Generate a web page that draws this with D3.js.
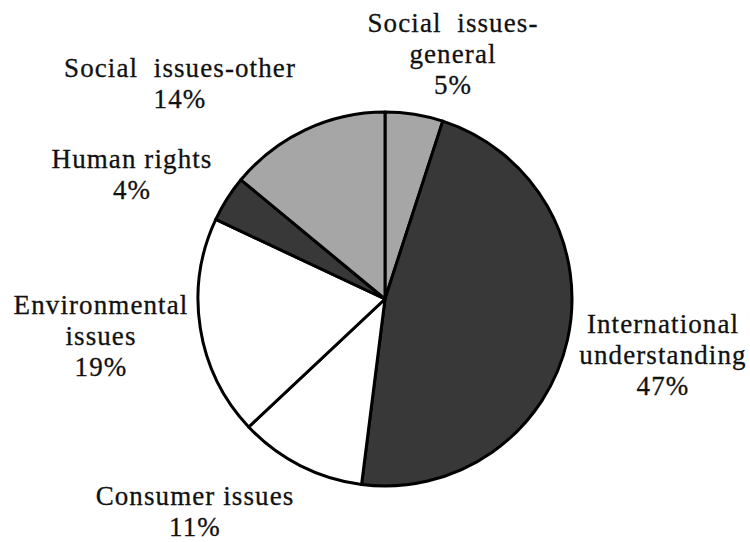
<!DOCTYPE html>
<html>
<head>
<meta charset="utf-8">
<script src="https://cdn.jsdelivr.net/npm/d3@7/dist/d3.min.js"></script>
<style>
  html, body { margin: 0; padding: 0; background: #fff; }
  svg text { font-family: "Liberation Serif", "Times New Roman", serif; font-size: 27px; letter-spacing: 1.1px; fill: #111; stroke: #111; stroke-width: 0.3px; white-space: pre; }
</style>
</head>
<body>
<svg id="chart" width="750" height="542"></svg>
<script>
// Share of projects by issue area, clockwise from 12 o'clock
const categories = [
  "Social issues-general",
  "International understanding",
  "Consumer issues",
  "Environmental issues",
  "Human rights",
  "Social issues-other"
];
const values = [5, 47, 11, 19, 4, 14];

// Label text, broken into lines (the percentage line is appended from values)
const labelLines = [
  ["Social  issues-", "general"],
  ["International", "understanding"],
  ["Consumer issues"],
  ["Environmental", "issues"],
  ["Human rights"],
  ["Social  issues-other"]
];

// Slice shades
const shades = ["#a6a6a6", "#383838", "#ffffff", "#ffffff", "#383838", "#a6a6a6"];

// Label anchor offsets from the pie centre (centre x, first baseline)
const labelOffsets = [
  [68, -267],
  [278, 34],
  [-190, 206],
  [-284, 15],
  [-253, -131],
  [-205, -222]
];

const width = 750, height = 542;
const cx = 385, cy = 299, radius = 187;
const lineGap = 31;

const svg = d3.select("#chart");
const g = svg.append("g").attr("transform", `translate(${cx},${cy})`);

const data = categories.map((c, i) => ({ name: c, value: values[i], i }));

const pie = d3.pie().sort(null).value(d => d.value).startAngle(0).endAngle(2 * Math.PI);
const arc = d3.arc().innerRadius(0).outerRadius(radius);
const color = d3.scaleOrdinal().domain(categories).range(shades);

g.selectAll("path.slice")
  .data(pie(data))
  .join("path")
  .attr("class", "slice")
  .attr("d", arc)
  .attr("fill", d => color(d.data.name))
  .attr("stroke", "#000")
  .attr("stroke-width", 3)
  .attr("stroke-linejoin", "round");

// Labels
const labels = svg.append("g");
data.forEach((d, i) => {
  const lines = labelLines[i].concat([`${d.value}%`]);
  const [dx, dy] = labelOffsets[i];
  const t = labels.append("text")
    .attr("text-anchor", "middle")
    .attr("x", cx + dx)
    .attr("y", cy + dy);
  lines.forEach((ln, k) => {
    t.append("tspan")
      .attr("x", cx + dx)
      .attr("dy", k === 0 ? 0 : lineGap)
      .text(ln);
  });
});
</script>
</body>
</html>
